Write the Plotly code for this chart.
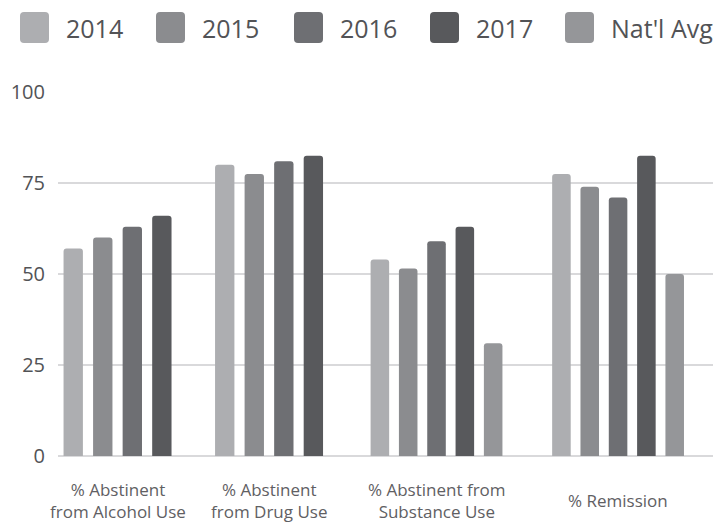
import plotly.graph_objects as go

# --- DATA ---
categories = [
    "% Abstinent<br>from Alcohol Use",
    "% Abstinent<br>from Drug Use",
    "% Abstinent from<br>Substance Use",
    "% Remission",
]
series_names = ["2014", "2015", "2016", "2017", "Nat'l Avg"]
vals_2014 = [57, 80, 54, 77.5]
vals_2015 = [60, 77.5, 51.5, 74]
vals_2016 = [63, 81, 59, 71]
vals_2017 = [66, 82.5, 63, 82.5]
vals_natl_avg = [None, None, 31, 50]
y_ticks = [0, 25, 50, 75, 100]

# --- STYLE ---
COLORS = ["#adaeb1", "#8b8c8f", "#6e6f73", "#58595c", "#959699"]
FONT = "Open Sans, sans-serif"
TEXT_COLOR = "#525356"
LABEL_COLOR = "#5f6063"
GRID_COLOR = "#d9d9db"

# page pixels (721x523 window); the html body adds an 8px margin
PAGE_W, PAGE_H, BODY = 721, 523, 8
L, R, T, B = 58, 721, 92, 456   # plot area in page pixels
W, H = R - L, B - T


def px_x(px):
    return (px - L) / W


def px_y(py):
    return (B - py) / H


def rounded_rect(x0, y0, x1, y1, r):
    """SVG path (paper coords) for a rounded rectangle given in pixels."""
    pts = [
        ("M", [(x0 + r, y0)]), ("L", [(x1 - r, y0)]), ("Q", [(x1, y0), (x1, y0 + r)]),
        ("L", [(x1, y1 - r)]), ("Q", [(x1, y1), (x1 - r, y1)]),
        ("L", [(x0 + r, y1)]), ("Q", [(x0, y1), (x0, y1 - r)]),
        ("L", [(x0, y0 + r)]), ("Q", [(x0, y0), (x0 + r, y0)]),
    ]
    out = ""
    for cmd, coords in pts:
        out += cmd + " ".join(f"{px_x(a):.5f},{px_y(b):.5f}" for a, b in coords) + " "
    return out + "Z"


all_series = [vals_2014, vals_2015, vals_2016, vals_2017, vals_natl_avg]

# categories without a national average get grouped on their own axis so the
# bars stay centred under the label (4 bars vs 5 bars)
has_avg = [v is not None for v in vals_natl_avg]
cats_a = [c for c, h in zip(categories, has_avg) if not h]
cats_b = [c for c, h in zip(categories, has_avg) if h]

fig = go.Figure()
for name, vals, color in zip(series_names, all_series, COLORS):
    for axis, cats in (("x", cats_a), ("x2", cats_b)):
        ys = [v for c, v in zip(categories, vals) if c in cats]
        if all(v is None for v in ys):
            continue
        fig.add_trace(go.Bar(
            x=cats, y=ys, name=name, xaxis=axis, yaxis="y",
            marker=dict(color=color, line=dict(width=0), cornerradius=3),
            showlegend=False,
        ))

# --- LEGEND (drawn by hand, large rounded swatches) ---
legend_left = [20, 156, 294, 430, 565]
shapes = []
annotations = []
for name, color, lx in zip(series_names, COLORS, legend_left):
    shapes.append(dict(
        type="path", xref="paper", yref="paper",
        path=rounded_rect(lx, 12, lx + 29, 43, 4),
        fillcolor=color, line=dict(width=0), layer="above",
    ))
    annotations.append(dict(
        text=name, xref="paper", yref="paper", x=px_x(lx + 44), y=px_y(28),
        xanchor="left", yanchor="middle", showarrow=False,
        font=dict(size=25, color=TEXT_COLOR, family=FONT),
    ))

# --- CATEGORY LABELS ---
for cat, h in zip(categories, has_avg):
    annotations.append(dict(
        text=cat, xref="x2" if h else "x", yref="paper", x=cat, y=px_y(500),
        xanchor="center", yanchor="middle", align="center", showarrow=False,
        font=dict(size=17, color=LABEL_COLOR, family=FONT),
    ))

fig.update_layout(
    width=PAGE_W - BODY, height=PAGE_H - BODY,
    margin=dict(l=L - BODY, r=PAGE_W - R, t=T - BODY, b=PAGE_H - B),
    paper_bgcolor="white", plot_bgcolor="white",
    barmode="group", bargap=0.22, bargroupgap=0.345,
    font=dict(family=FONT, color=TEXT_COLOR),
    shapes=shapes, annotations=annotations,
    xaxis=dict(
        type="category", categoryorder="array", categoryarray=cats_a,
        range=[-0.393, 3.983], showticklabels=False, showgrid=False,
        zeroline=False, showline=False, fixedrange=True,
    ),
    xaxis2=dict(
        type="category", categoryorder="array", categoryarray=cats_b,
        range=[-2.085, 1.567], overlaying="x", anchor="y",
        showticklabels=False, showgrid=False, zeroline=False, showline=False,
    ),
    yaxis=dict(
        range=[0, 100], tickmode="array", tickvals=y_ticks,
        ticktext=[str(t) for t in y_ticks],
        showgrid=True, gridcolor=GRID_COLOR, gridwidth=2,
        zeroline=True, zerolinecolor=GRID_COLOR, zerolinewidth=2,
        showline=False, ticks="", ticklabelstandoff=12,
        tickfont=dict(size=20, color=TEXT_COLOR, family=FONT),
    ),
)

fig.write_html("out.html")
